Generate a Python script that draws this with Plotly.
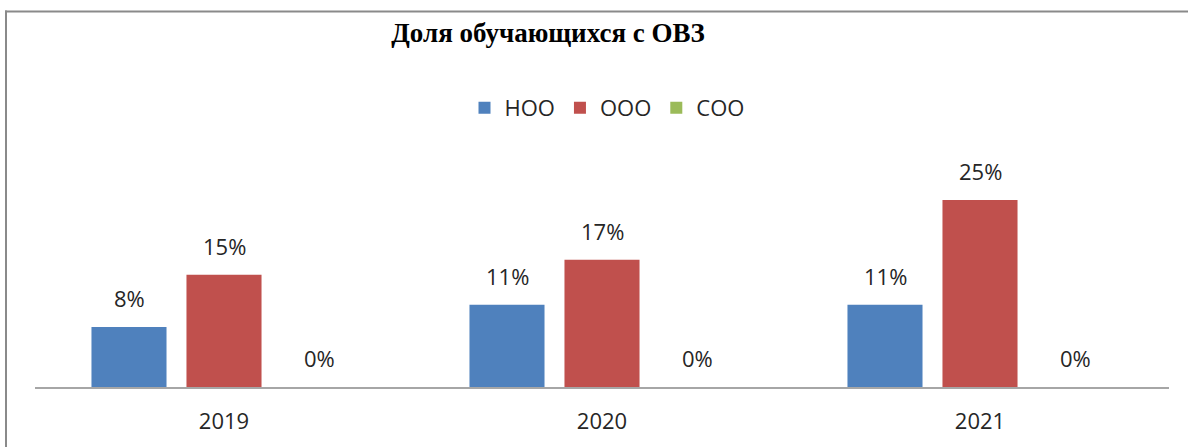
import plotly.graph_objects as go

years = ["2019", "2020", "2021"]
series_names = ["НОО", "ООО", "СОО"]
noo = [0.08, 0.11, 0.11]
ooo = [0.15, 0.17, 0.25]
soo = [0.0, 0.0, 0.0]
colors = ["#4F81BD", "#C0504D", "#9BBB59"]

W, H = 1188, 447
L, R, T, B = 35, 19, 140, 60
plot_w = W - L - R
plot_h = H - T - B
slot_px = 95  # pixel spacing between bars in a group

fig = go.Figure()
all_vals = [noo, ooo, soo]
for name, vals, col in zip(series_names, all_vals, colors):
    fig.add_trace(go.Bar(x=years, y=vals, name=name, marker=dict(color=col, line=dict(width=0))))

annotations = []
for i, vals in enumerate(all_vals):
    for k, v in enumerate(vals):
        annotations.append(dict(
            x=k, y=v, xref="x", yref="y", text=f"{round(v*100)}%",
            showarrow=False, xshift=(i - 1) * slot_px, yanchor="bottom", yshift=12,
            font=dict(family="Open Sans", size=22, color="#262626")))

def px_to_paper_x(px):
    return (px - L) / plot_w

def px_to_paper_y(py):
    return (H - B - py) / plot_h

fig.update_layout(
    width=W, height=H,
    margin=dict(l=L, r=R, t=T, b=B),
    paper_bgcolor="white", plot_bgcolor="white",
    barmode="group", bargap=0.246, bargroupgap=0.21,
    title=dict(text="<b>Доля обучающихся с ОВЗ</b>", x=548 / W, xref="container", xanchor="center",
               y=1 - 33 / H, yref="container", yanchor="middle",
               font=dict(family="Liberation Serif", size=27, color="#000000")),
    legend=dict(orientation="h", x=px_to_paper_x(607), xanchor="center", y=px_to_paper_y(108), yanchor="middle",
                font=dict(family="Open Sans", size=22, color="#262626"), bgcolor="rgba(0,0,0,0)"),
    showlegend=True,
    annotations=annotations,
    shapes=[
        dict(type="line", xref="paper", yref="paper", x0=px_to_paper_x(5), x1=px_to_paper_x(1200),
             y0=px_to_paper_y(11.5), y1=px_to_paper_y(11.5), line=dict(color="#8a8a8a", width=2)),
        dict(type="line", xref="paper", yref="paper", x0=px_to_paper_x(6), x1=px_to_paper_x(6),
             y0=px_to_paper_y(10.5), y1=px_to_paper_y(460), line=dict(color="#8a8a8a", width=2)),
    ],
    xaxis=dict(type="category", range=[-0.5, len(years) - 0.5], showline=True, linecolor="#a6a6a6",
               linewidth=1.5, ticks="", showgrid=False,
               tickfont=dict(family="Open Sans", size=22, color="#262626"), ticklabelstandoff=14),
    yaxis=dict(range=[0, 0.33], visible=False, showgrid=False, zeroline=False),
    font=dict(family="Open Sans"),
)

fig.write_html("out.html", config={"displayModeBar": False},
               post_script="document.body.style.margin='0';document.body.style.overflow='hidden';")
